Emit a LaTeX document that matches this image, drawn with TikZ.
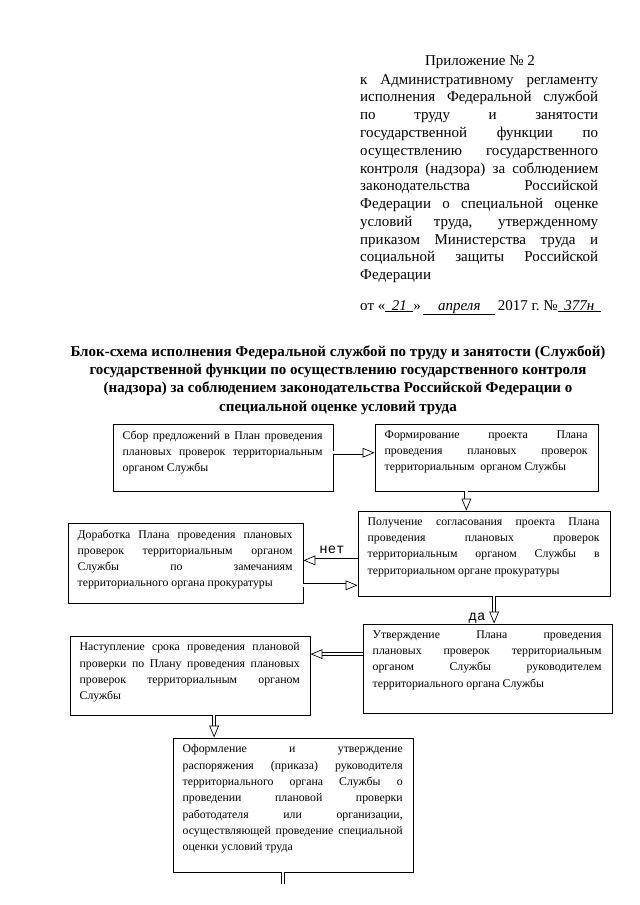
\documentclass[tikz,border=0pt]{standalone}
\usepackage{fontspec}
\setmainfont{Liberation Serif}
\newfontfamily\monofont{Liberation Mono}
\usetikzlibrary{arrows.meta,fit,calc}

\tikzset{
  box/.style={draw, line width=0.9pt, inner sep=0pt},
  txt/.style={anchor=north west, inner xsep=9.3pt, inner ysep=6.5pt, align=justify,
    font=\fontsize{11}{15.2}\selectfont},
  arr/.style={double, double distance=2.4pt, line width=0.65pt,
    -{Triangle[open, length=11pt, width=9pt]}},
  dbl/.style={double, double distance=2.4pt, line width=0.65pt},
  lbl/.style={font=\monofont\fontsize{13}{15}\selectfont, inner sep=0pt}
}

\begin{document}
\begin{tikzpicture}[x=0.328125mm, y=-0.328125mm]
    \useasboundingbox (0,0) rectangle (640,905);
    % header
    \node[font=\fontsize{14}{16.6}\selectfont] (pril) at (480,62) {Приложение № 2};
    \node[anchor=north west, inner sep=0pt, text width=78.1mm, align=justify,
      font=\fontsize{14}{16.6}\selectfont] (regl) at (360,74) {к Административному регламенту\linebreak
      исполнения Федеральной службой\linebreak
      по труду и занятости\linebreak
      государственной функции по\linebreak
      осуществлению государственного\linebreak
      контроля (надзора) за соблюдением\linebreak
      законодательства Российской\linebreak
      Федерации о специальной оценке\linebreak
      условий труда, утвержденному\linebreak
      приказом Министерства труда и\linebreak
      социальной защиты Российской\linebreak
      Федерации};
    \node[anchor=base west, inner sep=0pt, font=\fontsize{14}{16.6}\selectfont] (data) at (360,310)
      {от «\underline{\hbox to 9.2mm{\hss\itshape 21\hss}}»\,\underline{\hbox to 23.6mm{\hss\itshape апреля\hss}}\,2017~г.~№\underline{\hbox to 14.1mm{\hss\itshape 377н\hss}}};
    % title
    \node[align=center, font=\bfseries\fontsize{14}{17.1}\selectfont] (title) at (338,380)
      {Блок-схема исполнения Федеральной службой по труду и занятости (Службой)\\
      государственной функции по осуществлению государственного контроля\\
      (надзора) за соблюдением законодательства Российской Федерации о\\
      специальной оценке условий труда};

    % boxes
    \node[box, fit={(113,424) (333,491)}] (sbor) {};
    \node[txt, text width=65.6mm] at (sbor.north west) {Сбор предложений в План проведения\linebreak
      плановых проверок территориальным\linebreak органом Службы};
    \node[box, fit={(375,424) (598,491)}] (form) {};
    \node[txt, text width=66.6mm] at (form.north west) {Формирование проекта Плана\linebreak
      проведения плановых проверок\linebreak территориальным\ \ органом Службы};
    \node[box, fit={(358,511) (610,596)}] (pol) {};
    \node[txt, text width=76.1mm] at (pol.north west) {Получение согласования проекта Плана\linebreak
      проведения плановых проверок\linebreak территориальным органом Службы в\linebreak
      территориальном органе прокуратуры};
    \node[box, fit={(68,523) (303,603)}] (dor) {};
    \node[txt, text width=70.5mm] at (dor.north west) {Доработка Плана проведения плановых\linebreak
      проверок территориальным органом\linebreak Службы по замечаниям\linebreak
      территориального органа прокуратуры};
    \node[box, fit={(363,624) (612,713)}] (utv) {};
    \node[txt, text width=75.1mm] at (utv.north west) {Утверждение Плана проведения\linebreak
      плановых проверок территориальным\linebreak органом Службы руководителем\linebreak
      территориального органа Службы};
    \node[box, fit={(70,636) (310,715)}] (nast) {};
    \node[txt, text width=72.2mm] at (nast.north west) {Наступление срока проведения плановой\linebreak
      проверки по Плану проведения плановых\linebreak проверок территориальным органом\linebreak
      Службы};
    \node[box, fit={(173,738) (413,872)}] (oform) {};
    \node[txt, text width=72.2mm] at (oform.north west) {Оформление и утверждение\linebreak
      распоряжения (приказа) руководителя\linebreak территориального органа Службы о\linebreak
      проведении плановой проверки\linebreak работодателя или организации,\linebreak
      осуществляющей проведение специальной\linebreak оценки условий труда};

    % arrows
    \coordinate (ab) at ($(sbor.north east)!0.43!(sbor.south east)$);
    \draw[arr] (ab) -- (ab -| form.west);
    \coordinate (bc) at ($(form.south west)!0.41!(form.south east)$);
    \draw[arr] (bc) -- (bc |- pol.north);
    \coordinate (cd) at ($(pol.north west)!0.58!(pol.south west)$);
    \draw[arr] (cd) -- (cd -| dor.east);
    \coordinate (dc) at ($(dor.north east)!0.775!(dor.south east)$);
    \draw[arr] (dc) -- (dc -| pol.west);
    \coordinate (ce) at ($(pol.south west)!0.54!(pol.south east)$);
    \draw[arr] (ce) -- (ce |- utv.north);
    \coordinate (ef) at ($(utv.north west)!0.34!(utv.south west)$);
    \draw[arr] (ef) -- (ef -| nast.east);
    \coordinate (fg) at ($(nast.south west)!0.6!(nast.south east)$);
    \draw[arr] (fg) -- (fg |- oform.north);
    \coordinate (gend) at (283,884);
    \draw[dbl] (gend |- oform.south) -- (gend);
    \node[lbl] (net) at (332,550) {нет};
    \node[lbl] (da) at (477,618) {да};
\end{tikzpicture}
\end{document}
